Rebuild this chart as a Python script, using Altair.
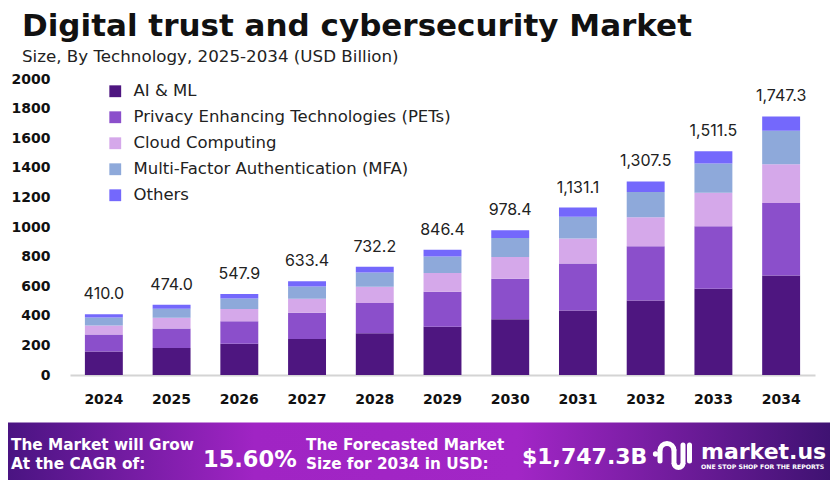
import altair as alt
import pandas as pd
import math

years = ["2024", "2025", "2026", "2027", "2028", "2029", "2030", "2031", "2032", "2033", "2034"]
totals = [410.0, 474.0, 547.9, 633.4, 732.2, 846.4, 978.4, 1131.1, 1307.5, 1511.5, 1747.3]
segments = ["AI & ML", "Privacy Enhancing Technologies (PETs)", "Cloud Computing",
            "Multi-Factor Authentication (MFA)", "Others"]
ai_ml = [158, 182, 211, 244, 282, 326, 377, 436, 504, 582, 673]
pets = [115, 133, 153, 177, 205, 237, 274, 317, 366, 423, 489]
cloud = [62, 71, 82, 95, 110, 127, 147, 170, 196, 227, 262]
mfa = [53, 62, 71, 82, 95, 110, 127, 147, 170, 197, 227]
others = [22, 26, 31, 35, 40, 46, 53, 61, 71, 83, 96]
y_ticks = [0, 200, 400, 600, 800, 1000, 1200, 1400, 1600, 1800, 2000]
colors = ["#4e1680", "#8b4fcb", "#d5a8ea", "#8ea9da", "#7468fc"]

series = [ai_ml, pets, cloud, mfa, others]
rows = []
for si, (seg, vals) in enumerate(zip(segments, series)):
    for y, v in zip(years, vals):
        rows.append({"year": y, "segment": seg, "value": v, "ord": si})
df = pd.DataFrame(rows)
tot_df = pd.DataFrame({"year": years, "total": totals})

DJ = "DejaVu Sans"
INTER = "Inter"

x_axis = alt.Axis(labelAngle=0, labelFontWeight="bold", labelFontSize=14,
                  labelColor="#111", labelPadding=17, ticks=False,
                  domainColor="#d4d4d4", domainWidth=2, labelFont=DJ)
x_scale = alt.Scale(paddingInner=0.44, paddingOuter=0.22)
y_axis = alt.Axis(values=y_ticks, format="d", labelFontWeight="bold", labelFontSize=14,
                  labelColor="#111", labelPadding=20, labelOverlap=False,
                  labelFlush=False, ticks=False, domain=False, grid=False, labelFont=DJ)
y_scale = alt.Scale(domain=[0, 2000], nice=False)

bars = alt.Chart(df).mark_bar().encode(
    x=alt.X("year:N", sort=years, title=None, scale=x_scale, axis=x_axis),
    y=alt.Y("value:Q", stack="zero", title=None, scale=y_scale, axis=y_axis),
    color=alt.Color("segment:N", sort=segments,
                    scale=alt.Scale(domain=segments, range=colors),
                    legend=alt.Legend(title=None, orient="none", legendX=37, legendY=4,
                                      symbolType="square", symbolSize=140,
                                      symbolStrokeWidth=0, labelFontSize=16.5,
                                      labelFont=DJ, labelColor="#222", labelLimit=0,
                                      labelOffset=10, rowPadding=9)),
    order=alt.Order("ord:Q", sort="ascending"),
)

labels = alt.Chart(tot_df).mark_text(fontSize=16, font=INTER, color="#222", dy=-15,
                                     baseline="alphabetic").encode(
    x=alt.X("year:N", sort=years, title=None, scale=x_scale, axis=x_axis),
    y=alt.Y("total:Q", title=None, scale=y_scale, axis=y_axis),
    text=alt.Text("total:Q", format=",.1f"),
)

one = pd.DataFrame({"a": [0]})


def txt(s, x, y, size, weight="normal", color="#000", font=DJ):
    return alt.Chart(pd.DataFrame({"t": [s]})).mark_text(
        align="left", baseline="alphabetic", fontSize=size, fontWeight=weight,
        color=color, font=font).encode(text="t:N", x=alt.value(x), y=alt.value(y))


title = txt("Digital trust and cybersecurity Market", -48, -43, 31, "bold", "#111")
subtitle = txt("Size, By Technology, 2025-2034 (USD Billion)", -48, -17, 16.7, "normal", "#222")

banner = alt.Chart(one).mark_rect(
    color=alt.Gradient(gradient="linear", x1=0, x2=1, y1=0, y2=0,
                       stops=[alt.GradientStop(offset=0, color="#4a1482"),
                              alt.GradientStop(offset=0.3, color="#a024c4"),
                              alt.GradientStop(offset=0.62, color="#a226c6"),
                              alt.GradientStop(offset=1, color="#3f1272")])
).encode(x=alt.value(-62), x2=alt.value(760), y=alt.value(343.5), y2=alt.value(401))

W = "#ffffff"
b1 = txt("The Market will Grow", -59, 371, 15.3, "bold", W)
b2 = txt("At the CAGR of:", -59, 390, 15.3, "bold", W)
b3 = txt("15.60%", 133, 387.5, 22.5, "bold", W)
b4 = txt("The Forecasted Market", 236, 371, 15.3, "bold", W)
b5 = txt("Size for 2034 in USD:", 236, 390, 15.3, "bold", W)
b6 = txt("$1,747.3B", 452, 385, 22, "bold", W)
b7 = txt("market.us", 631, 380, 22, "bold", W)
b8 = txt("ONE STOP SHOP FOR THE REPORTS", 631, 389.5, 6.2, "bold", W)

# market.us logo glyph (decorative)
ox, oy = 70, 79
def rule(x, y1, y2):
    return alt.Chart(one).mark_rule(strokeWidth=5, strokeCap="round", color=W).encode(
        x=alt.value(x - ox), y=alt.value(y1 - oy), y2=alt.value(y2 - oy))

def arc(cx, cy, r1, r2, t1, t2):
    return alt.Chart(one).mark_arc(color=W).encode(
        x=alt.value(cx - ox), y=alt.value(cy - oy),
        theta=alt.value(t1), theta2=alt.value(t2),
        radius=alt.value(r1), radius2=alt.value(r2))

logo = [
    alt.Chart(one).mark_circle(color=W, opacity=1, size=28).encode(
        x=alt.value(655.5 - ox), y=alt.value(454 - oy)),
    arc(667, 450.5, 9.5, 4.5, 1.5 * math.pi, 2.5 * math.pi),
    rule(660, 450.5, 461),
    rule(674, 450.5, 463),
    arc(678.5, 463, 7, 2, 0.5 * math.pi, 1.5 * math.pi),
    rule(683, 445, 463),
    rule(689.5, 445, 461),
]

chart = alt.layer(bars, labels, title, subtitle, banner, b1, b2, b3, b4, b5, b6, b7, b8,
                  *logo).properties(
    width=745, height=296,
    padding={"left": 62, "top": 71, "right": 15, "bottom": 105},
    autosize=alt.AutoSizeParams(type="none"),
    background="white",
).configure_view(stroke=None).configure_axisY(labelOverlap=False)

chart.save("out.html", embed_options={"renderer": "svg", "actions": False})
